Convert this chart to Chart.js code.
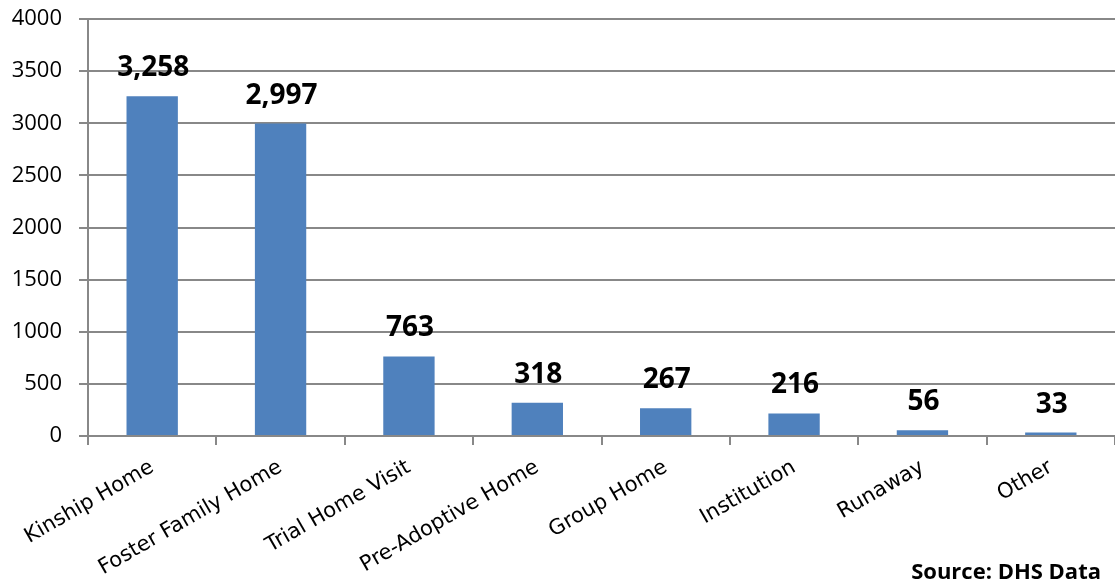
<!DOCTYPE html>
<html>
<head>
<meta charset="utf-8">
<script src="https://cdn.jsdelivr.net/npm/chart.js@4"></script>
<style>
  html, body { margin: 0; padding: 0; background: #fff; }
  #wrap { width: 1115px; height: 586px; position: relative; }
</style>
</head>
<body>
<div id="wrap"><canvas id="placementChart"></canvas></div>
<script>
const categories = ['Kinship Home', 'Foster Family Home', 'Trial Home Visit', 'Pre-Adoptive Home',
                    'Group Home', 'Institution', 'Runaway', 'Other'];
const children = [3258, 2997, 763, 318, 267, 216, 56, 33];
const yTicks = [0, 500, 1000, 1500, 2000, 2500, 3000, 3500, 4000];
const sourceNote = 'Source: DHS Data';

// Bold value above each bar
const valueLabels = {
    id: 'valueLabels',
    afterDatasetsDraw(chart) {
        const ctx = chart.ctx;
        const meta = chart.getDatasetMeta(0);
        ctx.save();
        ctx.font = 'bold 28px "Open Sans"';
        ctx.fillStyle = '#000';
        ctx.textAlign = 'center';
        ctx.textBaseline = 'alphabetic';
        meta.data.forEach((bar, i) => {
            ctx.fillText(children[i].toLocaleString('en-US'), bar.x + 1, bar.y - 20);
        });
        ctx.restore();
    }
};

const sourceText = {
    id: 'sourceText',
    afterDraw(chart) {
        const ctx = chart.ctx;
        ctx.save();
        ctx.font = 'bold 22px "Open Sans"';
        ctx.fillStyle = '#000';
        ctx.textAlign = 'right';
        ctx.fillText(sourceNote, 1101, 579);
        ctx.restore();
    }
};

const ctx = document.getElementById('placementChart').getContext('2d');
new Chart(ctx, {
    type: 'bar',
    data: {
        labels: categories,
        datasets: [{
            data: children,
            backgroundColor: '#4F81BD',
            barPercentage: 0.8,
            categoryPercentage: 0.5
        }]
    },
    options: {
        responsive: true,
        maintainAspectRatio: false,
        animation: false,
        layout: { padding: { top: 19, right: 0, left: 0, bottom: 0 } },
        plugins: {
            legend: { display: false },
            tooltip: { enabled: false }
        },
        scales: {
            x: {
                afterFit(scale) { scale.height = 150; },
                grid: { offset: true, drawOnChartArea: false, drawTicks: true, tickLength: 9, color: '#888', lineWidth: 2 },
                border: { color: '#888', width: 2 },
                ticks: {
                    minRotation: 30, maxRotation: 30, autoSkip: false,
                    color: '#000', padding: 10,
                    font: { family: 'DejaVu Sans', size: 21 }
                }
            },
            y: {
                min: 0, max: 4000,
                afterFit(scale) {
                    scale.width = 88;
                    scale.paddingTop = 0;
                    scale.paddingBottom = 0;
                },
                afterBuildTicks(scale) { scale.ticks = yTicks.map(v => ({ value: v })); },
                grid: { color: '#888', lineWidth: 2, tickLength: 9 },
                border: { color: '#888', width: 2 },
                ticks: {
                    color: '#000', padding: 17,
                    callback: v => String(v),
                    font: { family: 'Open Sans', size: 22 }
                }
            }
        }
    },
    plugins: [valueLabels, sourceText]
});
</script>
</body>
</html>
